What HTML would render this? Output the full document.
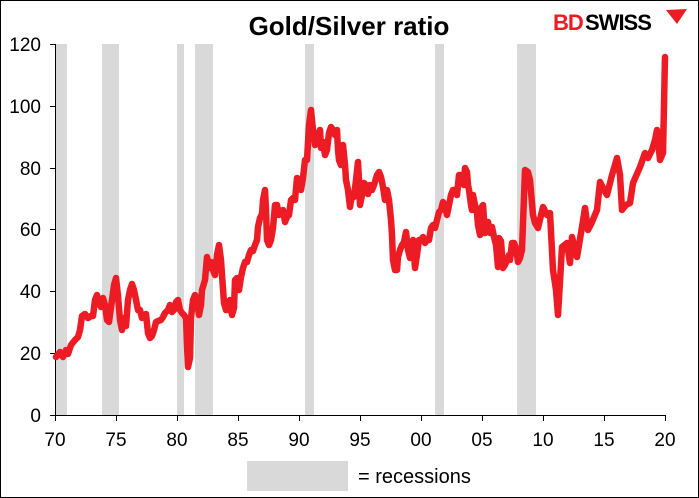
<!DOCTYPE html>
<html><head><meta charset="utf-8"><style>
html,body{margin:0;padding:0;background:#fff}
svg{display:block;font-family:"Liberation Sans",Arial,sans-serif}
</style></head><body>
<svg width="699" height="498" viewBox="0 0 699 498">
<rect x="0.5" y="0.5" width="698" height="497" fill="#fff" stroke="#000"/>
<g fill="#d9d9d9">
<rect x="56" y="44" width="11" height="371"/>
<rect x="102" y="44" width="17" height="371"/>
<rect x="177" y="44" width="7" height="371"/>
<rect x="195" y="44" width="18" height="371"/>
<rect x="305" y="44" width="9" height="371"/>
<rect x="435" y="44" width="9" height="371"/>
<rect x="517" y="44" width="19" height="371"/>
</g>
<text x="349" y="35" text-anchor="middle" font-size="26" font-weight="bold">Gold/Silver ratio</text>
<text x="553" y="30" font-size="22" font-weight="bold" fill="#ed1c24" letter-spacing="-1">BD</text>
<text x="585" y="30" font-size="22" font-weight="bold" fill="#000" letter-spacing="-1">SWISS</text>
<polygon points="666,10 687,9 677,24 673,19" fill="#ed1c24"/>
<g stroke="#000" stroke-width="1" fill="none">
<path d="M55.5,44V415.5H665"/>
<path d="M50,44.5H55M50,106.5H55M50,168.5H55M50,229.5H55M50,291.5H55M50,353.5H55M50,415.5H55"/>
<path d="M55.5,415V421M116.5,415V421M177.5,415V421M238.5,415V421M299.5,415V421M360.5,415V421M421.5,415V421M482.5,415V421M543.5,415V421M604.5,415V421M665.5,415V421"/>
</g>
<g font-size="19" text-anchor="end">
<text x="41" y="51">120</text><text x="41" y="113">100</text><text x="41" y="175">80</text>
<text x="41" y="236">60</text><text x="41" y="298">40</text><text x="41" y="360">20</text><text x="41" y="422">0</text>
</g>
<g font-size="19" text-anchor="middle">
<text x="55" y="446">70</text><text x="116" y="446">75</text><text x="177" y="446">80</text><text x="238" y="446">85</text>
<text x="299" y="446">90</text><text x="360" y="446">95</text><text x="421" y="446">00</text><text x="482" y="446">05</text>
<text x="543" y="446">10</text><text x="604" y="446">15</text><text x="665" y="446">20</text>
</g>
<rect x="247" y="461" width="101" height="30" fill="#d9d9d9"/>
<text x="358" y="483" font-size="20">= recessions</text>
<polyline fill="none" stroke="#ed1c24" stroke-width="6.5" stroke-linejoin="round" stroke-linecap="round" points="56,357 60,352 63,357 66,350 68,354 71,345 75,340 78,337 80,330 82,316 85,314 88,318 91,316 93,316 95,300 97,295 99,302 101,307 103,298 105,305 107,320 109,322 112,300 114,285 116,278 118,296 120,320 122,330 124,318 126,326 128,300 130,290 132,284 134,290 136,300 138,310 140,310 142,318 144,316 146,314 148,333 150,338 152,336 154,330 156,322 158,321 161,320 163,317 165,313 168,310 170,305 172,312 174,310 176,302 178,300 180,310 182,313 184,315 186,318 187,345 188,367 190,358 191,318 193,300 195,295 197,300 199,315 201,305 202,290 205,280 207,257 209,268 211,262 213,270 215,275 217,255 219,245 221,260 222,275 224,303 226,310 228,310 230,300 232,315 234,308 235,280 237,278 239,290 241,277 243,268 245,262 247,262 249,255 251,250 253,251 255,245 257,240 258,227 260,218 262,214 263,200 265,190 266,210 267,240 269,245 271,240 273,228 275,205 277,205 279,215 281,212 283,210 285,222 287,217 289,215 291,200 293,198 295,200 297,178 299,188 301,190 303,178 305,160 307,160 309,125 311,110 313,130 315,145 316,134 318,135 320,130 321,148 323,142 325,155 327,150 329,133 331,127 333,130 335,135 337,130 338,150 339,160 341,165 343,145 345,165 346,180 348,190 350,207 352,195 354,197 356,180 358,162 359,180 360,205 362,195 364,183 366,185 368,194 370,185 372,190 374,185 377,175 379,172 381,177 383,187 385,200 387,190 389,200 391,220 392,235 393,260 395,270 397,270 398,257 400,250 402,245 404,242 406,232 408,250 410,258 411,255 413,240 415,268 417,255 419,240 421,240 423,237 425,243 427,240 429,240 431,228 433,225 435,228 437,220 439,212 441,210 443,202 445,207 447,215 449,205 451,195 453,190 455,190 457,195 459,175 461,175 462,180 464,185 465,168 467,172 468,185 469,190 471,205 472,210 473,195 474,200 475,205 477,213 478,225 480,235 481,208 483,205 485,233 486,225 488,222 490,233 492,227 494,237 496,245 498,267 499,238 501,241 503,268 505,265 507,260 509,255 510,260 512,243 514,243 516,248 518,262 520,258 522,250 525,170 528,172 530,180 533,215 535,223 538,228 543,207 547,215 550,213 553,270 556,290 558,315 562,247 567,243 570,263 572,237 577,257 582,227 585,208 588,230 592,222 597,210 600,182 604,190 607,195 612,175 617,158 620,175 622,210 626,205 630,203 633,183 640,167 645,153 648,158 652,150 655,140 657,130 660,160 663,153 665,57"/>
</svg>
</body></html>
